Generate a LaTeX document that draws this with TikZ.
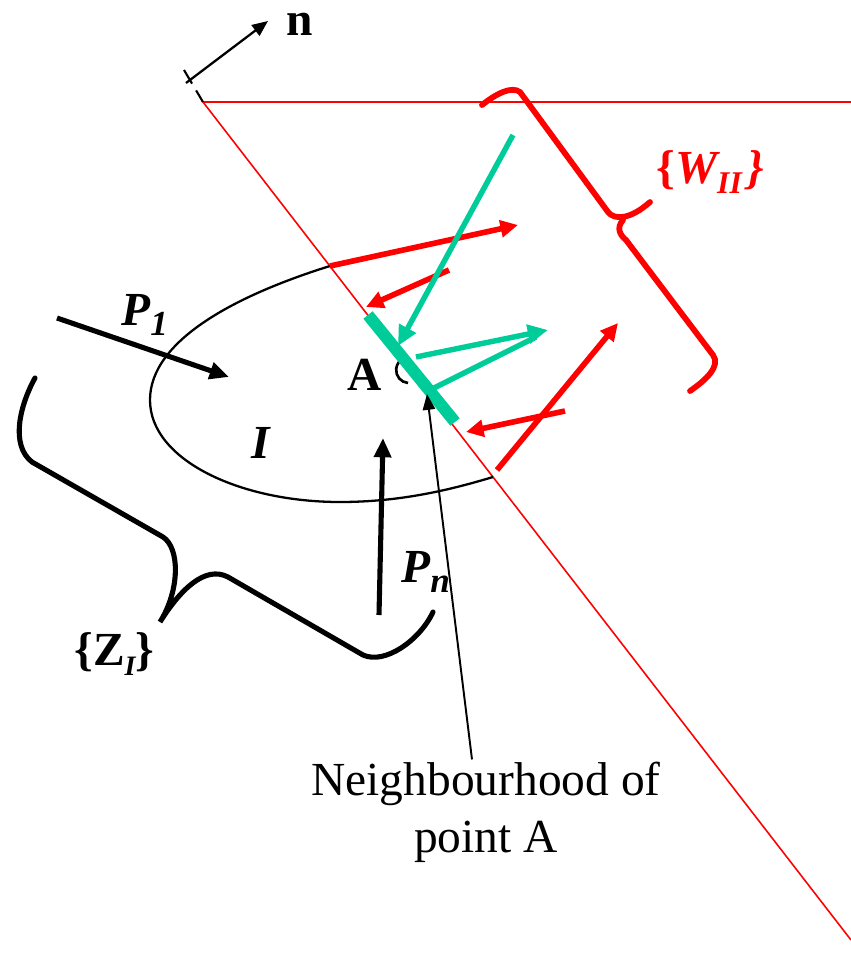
\documentclass[tikz,border=0pt]{standalone}
\usepackage{fontspec}
\setmainfont{Liberation Serif}
\usetikzlibrary{arrows.meta,calc}
\definecolor{wallgreen}{RGB}{0,204,153}
\newcommand{\lowsub}[2][19]{\raisebox{-6pt}{\fontsize{#1}{#1}\selectfont #2}}

\begin{document}
\begin{tikzpicture}[x=0.02cm,y=-0.02cm,
  lbl/.style={inner sep=0pt,anchor=base west,font=\fontsize{27}{30}\selectfont\bfseries},
  thinred/.style={red,line width=0.9pt},
  heavy/.style={line width=2.9pt},
  bigtip/.style={-{Triangle[length=11pt,width=9.5pt]}},
  redtip/.style={red,line width=3.2pt,-{Triangle[length=10pt,width=9.5pt]}},
  greentip/.style={wallgreen,line width=3.1pt,-{Triangle[length=11.5pt,width=10.5pt]}}]
  \useasboundingbox (0,0) rectangle (851,954);
  % boundary of the region and normal
  \coordinate (apex) at (203,102);
  \coordinate (nfoot) at (184,70);
  \coordinate (nbase) at (186,83);
  \coordinate (ntip) at (268,21);
  \draw[thinred] (851,102) -- (apex) -- (851,940);
  \draw[line width=1.2pt,dash pattern=on 9pt off 4.5pt on 9pt off 20pt] (nfoot) -- (apex);
  \draw[line width=1.3pt,-{Triangle[length=9pt,width=7.5pt]}] (nbase) -- (ntip);
  \node[lbl] (nlabel) at (286,35) {n};
  % region I
  \draw[line width=1.3pt] (330,266) .. controls (237,295) and (150,340) .. (150,400)
    .. controls (150,460) and (240,502) .. (340,502) .. controls (400,502) and (450,490) .. (493,477);
  \node[lbl] (Ilabel) at (251,458) {\itshape I};
  % loads
  \coordinate (p1s) at (57,318);  \coordinate (p1e) at (229,377);
  \coordinate (pns) at (379,615); \coordinate (pne) at (383,438);
  \draw[heavy,bigtip] (p1s) -- (p1e);
  \draw[heavy,bigtip] (pns) -- (pne);
  \node[lbl] (Plabel) at (121,325) {\itshape P\lowsub[20]{1}};
  \node[lbl] (Pnlabel) at (401,582) {\itshape P\lowsub[20]{n}};
  % brace Z_I
  \draw[heavy,line cap=round] (35,378) .. controls (20,405) and (10,445) .. (32,462) -- (163,537)
    .. controls (180,548) and (180,590) .. (160,622)
    .. controls (180,590) and (205,565) .. (228,577) -- (363,655) .. controls (385,665) and (420,640) .. (433,612);
  \node[lbl] (Zlabel) at (74,665) {\{Z\lowsub[16]{\itshape I}\}};
  % waves reflected and transmitted
  \draw[redtip] (330,266) -- (518,225);
  \draw[redtip] (449,270) -- (366,307);
  \draw[redtip] (565,411) -- (466,432);
  \draw[redtip] (497,470) -- (618,323);
  \draw[red,line width=3.3pt,line cap=round] (482,105) .. controls (497,93) and (512,86) .. (520,92) -- (608,212)
    .. controls (614,220) and (630,220) .. (650,202);
  \draw[red,line width=3.3pt,line cap=round] (623,220) .. controls (616,228) and (620,235) .. (626,240) -- (713,355)
    .. controls (721,366) and (706,380) .. (690,391);
  \node[lbl,red] (Wlabel) at (656,183) {\{\itshape W\lowsub[18]{II}\kern3pt\}};
  % neighbourhood of A
  \draw[line width=1.5pt] (408,383) arc[start angle=95,end angle=250,radius=13];
  \node[lbl] (Alabel) at (347,390) {A};
  \draw[wallgreen,line width=6.8pt] (368,315) -- (455,422);
  \draw[greentip] (513,135) -- (398,346);
  \draw[wallgreen,line width=3.1pt] (430,390) -- (536,337);
  \draw[greentip] (416,357) -- (548,330);
  \node[font=\fontsize{27}{32.4}\selectfont,align=center,inner sep=0pt] (nbh) at (486,812) {Neighbourhood of\\point A};
  \draw[line width=1.1pt,-{Triangle[length=9pt,width=7pt]}] ($(nbh.north)+(-14,-2)$) -- (427,394);
\end{tikzpicture}
\end{document}
